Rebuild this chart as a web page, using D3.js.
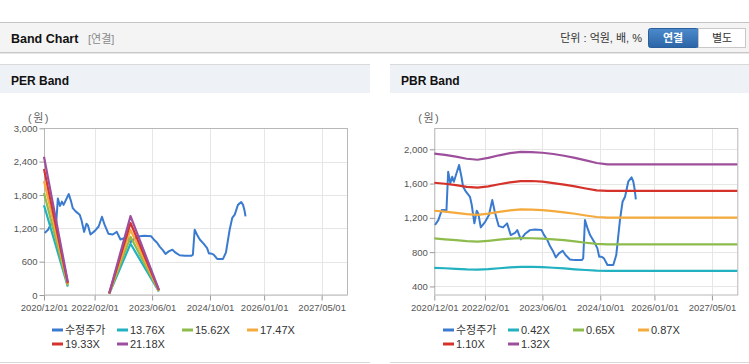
<!DOCTYPE html>
<html><head><meta charset="utf-8">
<script src="https://cdn.jsdelivr.net/npm/d3@7"></script>
<style>
body{margin:0;background:#fff;font-family:"Liberation Sans",Arial,"Noto Sans CJK KR",sans-serif;}
svg{display:block}
</style></head><body>
<svg id="c" width="749" height="364"></svg>
<script>
// ---------- DATA ----------
const xTickLabels = ["2020/12/01","2022/02/01","2023/06/01","2024/10/01","2026/01/01","2027/05/01"];
const xDomain = ["2020-12-01","2027-12-01"];

const priceDates = ["2020-12-07","2021-01-04","2021-02-02","2021-03-01","2021-03-13","2021-03-28","2021-04-15","2021-05-01","2021-05-15","2021-06-28","2021-07-18","2021-08-01","2021-08-25","2021-09-28","2021-10-13","2021-11-04","2021-11-24","2021-12-07","2021-12-28","2022-02-03","2022-03-07","2022-04-04","2022-04-25","2022-05-28","2022-07-04","2022-08-07","2022-09-07","2022-10-13","2022-11-01","2022-12-01","2023-01-04","2023-02-15","2023-03-28","2023-05-25","2023-06-15","2023-07-13","2023-08-04","2023-09-01","2023-09-22","2023-10-19","2023-11-19","2023-12-13","2024-01-19","2024-03-01","2024-04-28","2024-05-10","2024-05-25","2024-06-13","2024-07-07","2024-08-10","2024-09-07","2024-09-22","2024-10-13","2024-11-01","2024-12-01","2025-01-19","2025-02-13","2025-03-16","2025-04-07","2025-04-28","2025-05-25","2025-06-22","2025-07-07","2025-07-19","2025-07-28"];
const priceValues = [1116,1174,1291,1291,1271,1738,1603,1680,1622,1817,1680,1563,1505,1446,1350,1136,1283,1252,1089,1154,1233,1408,1271,1104,1089,1136,999,1026,1057,949,1011,1057,1065,1057,999,941,871,804,739,785,816,766,715,707,707,727,1174,1089,999,921,844,746,746,727,649,649,766,1174,1388,1446,1622,1673,1622,1525,1416];

// PER band (null = gap)
const perBandDates = ["2020-12-01","2021-06-20","2022-01-01","2022-06-04","2022-12-01","2023-07-28"];
const perNames = ["13.76X","15.62X","17.47X","19.33X","21.18X"];
const per1376 = [1616,151,null,21,922,62];
const per1562 = [1834,172,null,23,1047,70];
const per1747 = [2051,192,null,26,1170,79];
const per1933 = [2269,213,null,29,1295,87];
const per2118 = [2487,233,null,32,1419,95];

// PBR band
const pbrBandDates = ["2020-12-01","2021-03-01","2021-06-01","2021-09-01","2021-12-01","2022-03-01","2022-06-01","2022-09-01","2022-12-01","2023-03-01","2023-06-01","2023-09-01","2023-12-01","2024-03-01","2024-06-01","2024-09-01","2024-12-01","2027-12-01"];
const pbrNames = ["0.42X","0.65X","0.87X","1.10X","1.32X"];
const pbr042 = [617,612,605,599,597,603,612,622,628,628,625,618,610,600,592,585,582,582];
const pbr065 = [960,950,940,928,922,932,945,957,963,962,958,950,940,925,910,896,890,890];
const pbr087 = [1283,1272,1258,1243,1235,1250,1270,1287,1298,1297,1290,1278,1265,1248,1228,1210,1202,1202];
const pbr110 = [1610,1598,1582,1562,1552,1568,1592,1614,1628,1630,1622,1605,1588,1567,1543,1520,1515,1515];
const pbr132 = [1950,1935,1915,1890,1878,1900,1930,1955,1970,1968,1960,1945,1925,1900,1870,1840,1825,1825];

const perTicks = [0,600,1200,1800,2400,3000];
const pbrTicks = [400,800,1200,1600,2000];
const priceName = "수정주가";
const bandColors = ["#22b1c0","#8dbb4c","#f4aa3c","#d5322c","#9d4f9c"];
const priceColor = "#3a7bd0";

// ---------- DRAW ----------
const svg = d3.select("#c");
const parse = d3.timeParse("%Y-%m-%d");
const fmtTick = d3.timeFormat("%Y/%m/%d");

// top header
svg.append("rect").attr("x",0).attr("y",22).attr("width",749).attr("height",31).attr("fill","#f4f4f4");
svg.append("line").attr("x1",0).attr("x2",749).attr("y1",22.5).attr("y2",22.5).attr("stroke","#c4c4c4");
svg.append("line").attr("x1",0).attr("x2",749).attr("y1",52.5).attr("y2",52.5).attr("stroke","#c8c8c8");
svg.append("line").attr("x1",0).attr("x2",749).attr("y1",53.5).attr("y2",53.5).attr("stroke","#e6e6e6");
svg.append("text").attr("x",11).attr("y",43).attr("font-size","12.5px").attr("font-weight","bold").attr("fill","#111").text("Band Chart");
svg.append("text").attr("x",88).attr("y",43).attr("font-size","11px").attr("fill","#8a8a8a").text("[연결]");
svg.append("text").attr("x",642).attr("y",42).attr("text-anchor","end").attr("font-size","11px").attr("fill","#333").text("단위 : 억원, 배, %");
const grad = svg.append("defs").append("linearGradient").attr("id","bg").attr("x1",0).attr("x2",0).attr("y1",0).attr("y2",1);
grad.append("stop").attr("offset","0").attr("stop-color","#4c8acb");
grad.append("stop").attr("offset","1").attr("stop-color","#2c65a7");
svg.append("rect").attr("x",648.5).attr("y",28.5).attr("width",50).attr("height",19).attr("rx",2).attr("fill","url(#bg)").attr("stroke","#2a5f9c");
svg.append("rect").attr("x",698.5).attr("y",28.5).attr("width",47).attr("height",19).attr("fill","#fff").attr("stroke","#c8c8c8");
svg.append("text").attr("x",673).attr("y",42).attr("text-anchor","middle").attr("font-size","11px").attr("font-weight","bold").attr("fill","#fff").text("연결");
svg.append("text").attr("x",722).attr("y",42).attr("text-anchor","middle").attr("font-size","11px").attr("fill","#333").text("별도");

function panel(px, pw, title){
  svg.append("rect").attr("x",px).attr("y",64).attr("width",pw).attr("height",29).attr("fill","#eef2f7");
  svg.append("line").attr("x1",px).attr("x2",px+pw).attr("y1",64.5).attr("y2",64.5).attr("stroke","#d9d9d9");
  svg.append("line").attr("x1",px).attr("x2",px+pw).attr("y1",362.5).attr("y2",362.5).attr("stroke","#d9d9d9");
  svg.append("text").attr("x",px+11).attr("y",85).attr("font-size","12px").attr("font-weight","bold").attr("fill","#111").text(title);
}
panel(0,370,"PER Band");
panel(390,359,"PBR Band");

function chart(o){
  const g = svg.append("g");
  const x = d3.scaleTime().domain(xDomain.map(parse)).range([o.left, o.left+303]);
  const y = d3.scaleLinear().domain(o.yDomain).range([295,128.3]);
  const xt = xTickLabels.map(s=>d3.timeParse("%Y/%m/%d")(s));
  // grid
  g.selectAll(".hg").data(o.ticks).join("line")
    .attr("x1",o.left).attr("x2",o.left+303).attr("y1",d=>Math.round(y(d))+0.5).attr("y2",d=>Math.round(y(d))+0.5)
    .attr("stroke","#e6e6e6");
  g.selectAll(".vg").data(xt).join("line")
    .attr("y1",128.3).attr("y2",295).attr("x1",d=>Math.round(x(d))+0.5).attr("x2",d=>Math.round(x(d))+0.5)
    .attr("stroke","#e6e6e6");
  g.append("rect").attr("x",o.left+0.5).attr("y",128.5).attr("width",303).attr("height",166.5)
    .attr("fill","none").attr("stroke","#b8b8b8");
  // axes
  const ya = g.append("g").attr("transform",`translate(${o.left+0.5},0)`)
    .call(d3.axisLeft(y).tickValues(o.ticks).tickSize(5).tickPadding(2).tickFormat(d3.format(",")));
  ya.select(".domain").remove();
  ya.selectAll("line").attr("stroke","#999");
  ya.selectAll("text").attr("font-size","9.5px").attr("fill","#555").attr("font-family","Liberation Sans, Arial, sans-serif");
  const xa = g.append("g").attr("transform","translate(0,295.5)")
    .call(d3.axisBottom(x).tickValues(xt).tickSize(5).tickPadding(4).tickFormat(fmtTick));
  xa.select(".domain").remove();
  xa.selectAll("line").attr("stroke","#999");
  xa.selectAll("text").attr("font-size","9.5px").attr("fill","#555").attr("font-family","Liberation Sans, Arial, sans-serif");
  g.append("text").attr("x",o.left-5).attr("y",122).attr("text-anchor","middle").attr("font-size","11px")
    .attr("letter-spacing","1.5px").attr("fill","#666").text("(원)");
  // lines
  const line = d3.line().defined(d=>d[1]!=null).x(d=>x(d[0])).y(d=>y(d[1]));
  g.append("path").attr("d",line(priceDates.map((d,i)=>[parse(d),priceValues[i]])))
    .attr("fill","none").attr("stroke",priceColor).attr("stroke-width",2).attr("stroke-linejoin","round");
  o.bands.forEach((arr,k)=>{
    g.append("path").attr("d",line(o.bandDates.map((d,i)=>[parse(d),arr[i]])))
      .attr("fill","none").attr("stroke",bandColors[k]).attr("stroke-width",2.2).attr("stroke-linejoin","round");
  });
  // legend
  const names = [priceName].concat(o.names);
  const colors = [priceColor].concat(bandColors);
  names.forEach((n,i)=>{
    const lx = o.legX + (i%4)*65, ly = i<4 ? 330 : 344;
    g.append("line").attr("x1",lx).attr("x2",lx+11).attr("y1",ly).attr("y2",ly).attr("stroke",colors[i]).attr("stroke-width",3);
    g.append("text").attr("x",lx+13).attr("y",ly+4).attr("font-size","11px").attr("fill","#333").text(n);
  });
}
chart({left:44, yDomain:[0,3000], ticks:perTicks, bandDates:perBandDates, bands:[per1376,per1562,per1747,per1933,per2118], names:perNames, legX:52});
chart({left:434.3, yDomain:[300,2245], ticks:pbrTicks, bandDates:pbrBandDates, bands:[pbr042,pbr065,pbr087,pbr110,pbr132], names:pbrNames, legX:443});
</script></body></html>
